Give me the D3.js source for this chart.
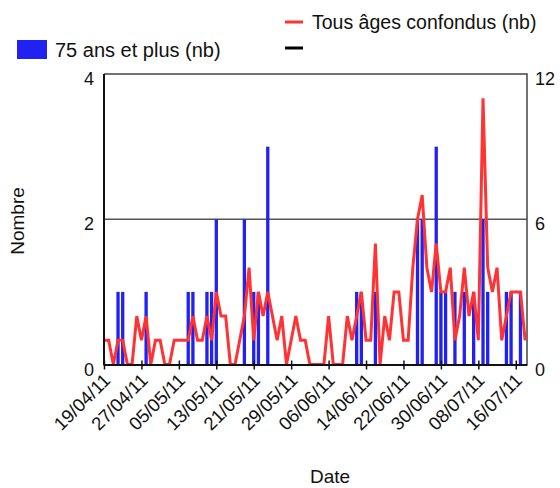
<!DOCTYPE html>
<html><head><meta charset="utf-8">
<script src="https://cdn.jsdelivr.net/npm/d3@7"></script>
<style>
body{margin:0;background:#fff;}
text{font-family:"Liberation Sans", Arial, sans-serif;fill:#111;}
</style>
</head><body>
<svg id="chart" width="560" height="488"></svg>
<script>
// ---- data ----
const startDay = "19/04/11";           // first day of the daily series
const tousAges = [1,1,0,1,1,0,0,2,1,2, 0,1,1,0,0,1,1,1,1,2, 1,1,2,1,3,2,2,0,0,1,
                  2,4,1,3,2,3,2,1,2,0, 1,2,1,1,0,0,0,0,2,0, 0,0,2,1,2,3,1,1,5,0,
                  2,1,3,3,1,1,4,6,7,4, 3,5,3,3,4,1,2,4,2,3, 1,11,4,3,4,1,2,3,3,3, 1];
const plus75   = [0,0,0,1,1,0,0,0,0,1, 0,0,0,0,0,0,0,0,1,1, 0,0,1,1,2,0,0,0,0,0,
                  2,0,1,1,0,3,0,0,0,0, 0,0,0,0,0,0,0,0,0,0, 0,0,0,0,1,1,0,0,1,0,
                  0,0,0,0,0,0,0,2,2,0, 0,3,1,1,0,1,0,1,0,1, 0,2,1,0,0,0,1,1,0,1, 0];
const xTickLabels = ["19/04/11","27/04/11","05/05/11","13/05/11","21/05/11","29/05/11",
                     "06/06/11","14/06/11","22/06/11","30/06/11","08/07/11","16/07/11"];
const leftTicks = [0,2,4];
const rightTicks = [0,6,12];
const legendBar = "75 ans et plus (nb)";
const legendLine = "Tous âges confondus (nb)";

// ---- layout ----
const svg = d3.select("#chart");
const L = 104, R = 527, T = 74, B = 364.5;
const parse = d3.timeParse("%d/%m/%y");
const t0 = parse(startDay);
const dates = tousAges.map((_, i) => d3.timeDay.offset(t0, i));
const tEnd = new Date(t0.getTime() + 90.4 * 864e5);

const x = d3.scaleTime().domain([t0, tEnd]).range([L, R]);
const yL = d3.scaleLinear().domain([0, 4]).range([B, T]);
const yR = d3.scaleLinear().domain([0, 12]).range([B, T]);

// gridline
svg.append("g").selectAll("line").data([2]).join("line")
  .attr("x1", L).attr("x2", R).attr("y1", d => yL(d)).attr("y2", d => yL(d))
  .attr("stroke", "#555").attr("stroke-width", 1.5);

// bars
const barW = 3.3;
svg.append("g").selectAll("rect").data(plus75.map((v, i) => ({d: dates[i], v})).filter(o => o.v > 0))
  .join("rect")
  .attr("x", o => x(o.d) - barW / 2).attr("width", barW)
  .attr("y", o => yL(o.v)).attr("height", o => yL(0) - yL(o.v))
  .attr("fill", "#2121f2");

// frame (top + right)
svg.append("path").attr("d", `M${L},${T}H${R}V${B}`).attr("fill", "none")
  .attr("stroke", "#444").attr("stroke-width", 1.5);

// line
const line = d3.line().x((v, i) => x(dates[i])).y(v => yR(v));
svg.append("path").datum(tousAges).attr("d", line).attr("fill", "none")
  .attr("stroke", "#ff3333").attr("stroke-width", 3);

// left axis line + bottom axis line
svg.append("line").attr("x1", L).attr("x2", L).attr("y1", T).attr("y2", B + 1)
  .attr("stroke", "#111").attr("stroke-width", 2);

const xTicks = xTickLabels.map(parse);
const xAxis = d3.axisBottom(x).tickValues(xTicks).tickFormat(d3.timeFormat("%d/%m/%y"))
  .tickSizeInner(5).tickSizeOuter(0);
const gx = svg.append("g").attr("transform", `translate(0,${B})`).call(xAxis);
gx.select(".domain").attr("stroke", "#111").attr("stroke-width", 2);
gx.selectAll(".tick line").attr("y1", -4).attr("stroke", "#111").attr("stroke-width", 1.5);
gx.selectAll(".tick text")
  .attr("font-size", 18.5).attr("fill", "#111")
  .attr("text-anchor", "end").attr("dy", null).attr("y", null)
  .attr("transform", "translate(7,17) rotate(-45)");

// y tick labels
svg.append("g").selectAll("text").data(leftTicks).join("text")
  .attr("x", 94).attr("y", d => yL(d) + 11).attr("text-anchor", "end")
  .attr("font-size", 18).text(d => d);
svg.append("g").selectAll("text").data(rightTicks).join("text")
  .attr("x", 535).attr("y", d => yR(d) + 11).attr("text-anchor", "start")
  .attr("font-size", 18).text(d => d);

// axis titles
svg.append("text").attr("transform", "translate(24,221) rotate(-90)")
  .attr("text-anchor", "middle").attr("font-size", 19).text("Nombre");
svg.append("text").attr("x", 330).attr("y", 483)
  .attr("text-anchor", "middle").attr("font-size", 19).text("Date");

// legend
const lg = svg.append("g");
lg.append("rect").attr("x", 17).attr("y", 40).attr("width", 30).attr("height", 19).attr("fill", "#2121f2");
lg.append("text").attr("x", 55).attr("y", 57).attr("font-size", 20).text(legendBar);
lg.append("line").attr("x1", 285).attr("x2", 303).attr("y1", 22).attr("y2", 22)
  .attr("stroke", "#ff3333").attr("stroke-width", 3);
lg.append("text").attr("x", 312).attr("y", 29).attr("font-size", 19.5).text(legendLine);
lg.append("line").attr("x1", 285).attr("x2", 303).attr("y1", 48).attr("y2", 48)
  .attr("stroke", "#000").attr("stroke-width", 3);
</script>
</body></html>
